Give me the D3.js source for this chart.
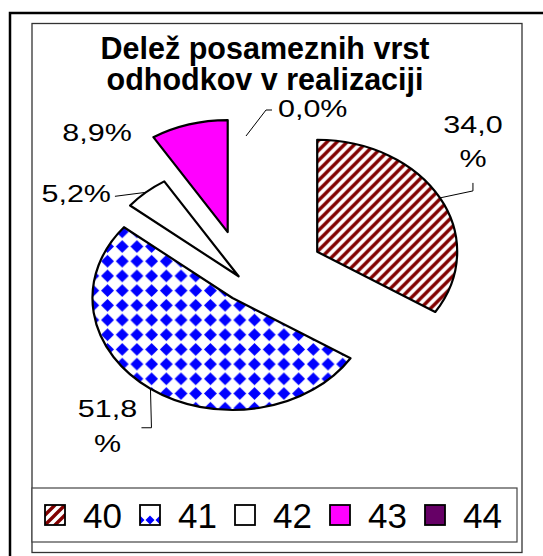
<!DOCTYPE html>
<html>
<head>
<meta charset="utf-8">
<script src="https://cdn.jsdelivr.net/npm/d3@7"></script>
<style>
  body { margin: 0; background: white; }
  text { font-family: "Liberation Sans", Arial, sans-serif; fill: black; }
</style>
</head>
<body>
<div id="chart"></div>
<script>
// data
const categories = ["40", "41", "42", "43", "44"];
const values = [34.0, 51.8, 5.2, 8.9, 0.0];
const titleLines = ["Delež posameznih vrst", "odhodkov v realizaciji"];

// styling / layout
const width = 543, height = 556;
const fills = ["url(#stripes-pie)", "url(#diamonds-pie)", "#ffffff", "#ff00ff", "#660066"];
const legendFills = ["url(#stripes-leg)", "url(#diamonds-leg)", "#ffffff", "#ff00ff", "#660066"];
const explode = [0.58, 0.165, 0.08, 0.473, 0.3125];   // fraction of radius, per slice
const cx = 246, cy = 283, R = 112, sx = 1.25;          // pie is stretched horizontally
const labelStretch = 1.27;

// label placement relative to the outer mid point of each slice
const labelLayout = [
  { leader: [[0, 0], [33, -7], [33, -15]], tx: 33, ty: [-64.5, -30.5], anchor: "middle", wrap: true },
  { leader: [[0, 0], [1, 39], [-9, 39]], tx: -43, ty: [28, 63], anchor: "middle", wrap: true },
  { leader: [[0, 0], [-31, 4]], tx: -35, ty: [10], anchor: "end", wrap: false },
  { leader: null, tx: -92, ty: [17], anchor: "middle", wrap: false },
  { leader: [[0, 0], [20, -26], [26, -26]], tx: 32, ty: [-19.5], anchor: "start", wrap: false }
];

const svg = d3.select("#chart").append("svg")
  .attr("width", width)
  .attr("height", height);

// patterns
const defs = svg.append("defs");
function makePatterns(suffix, transform) {
  const st = defs.append("pattern")
    .attr("id", "stripes-" + suffix)
    .attr("patternUnits", "userSpaceOnUse")
    .attr("width", 10).attr("height", 10);
  if (transform) st.attr("patternTransform", transform);
  st.append("rect").attr("width", 10).attr("height", 10).attr("fill", "white");
  st.append("path")
    .attr("d", "M-5,5 L5,-5 M0,10 L10,0 M5,15 L15,5")
    .attr("stroke", "#800000")
    .attr("stroke-width", 3.4);

  const dm = defs.append("pattern")
    .attr("id", "diamonds-" + suffix)
    .attr("patternUnits", "userSpaceOnUse");
  if (transform) {
    dm.attr("width", 14.7).attr("height", 14.7).attr("patternTransform", transform);
    dm.append("rect").attr("width", 14.7).attr("height", 14.7).attr("fill", "white");
    dm.append("path")
      .attr("d", "M7.35,0.9 L13.8,7.35 L7.35,13.8 L0.9,7.35 Z")
      .attr("fill", "#0000ff");
  } else {
    dm.attr("x", 140).attr("y", 505).attr("width", 10).attr("height", 20);
    dm.append("rect").attr("width", 10).attr("height", 20).attr("fill", "white");
    dm.append("path")
      .attr("d", "M0,5.5 L4.5,10 L0,14.5 L-4.5,10 Z M10,5.5 L14.5,10 L10,14.5 L5.5,10 Z")
      .attr("fill", "#0000ff");
  }
}
makePatterns("pie", `scale(${1 / sx},1)`);
makePatterns("leg", null);

// frames
svg.append("rect")
  .attr("x", 10).attr("y", 13)
  .attr("width", 600).attr("height", 600)
  .attr("fill", "none")
  .attr("stroke", "black")
  .attr("stroke-width", 2.5);

svg.append("rect")
  .attr("x", 32).attr("y", 23.5)
  .attr("width", 490).attr("height", 529)
  .attr("fill", "white")
  .attr("stroke", "#333")
  .attr("stroke-width", 1.3);

// title
svg.append("text")
  .attr("x", 265)
  .attr("text-anchor", "middle")
  .style("font-weight", "bold")
  .style("font-size", "30.5px")
  .selectAll("tspan")
  .data(titleLines)
  .enter()
  .append("tspan")
    .attr("x", 265)
    .attr("y", (d, i) => 59 + i * 31)
    .text(d => d);

// pie
const pie = d3.pie().sort(null).value(d => d);
const arcs = pie(values);
const arc = d3.arc().innerRadius(0).outerRadius(R);

const mid = d => (d.startAngle + d.endAngle) / 2;

svg.append("g")
  .selectAll("path")
  .data(arcs.filter(d => d.value > 0))
  .enter()
  .append("path")
    .attr("d", arc)
    .attr("transform", d => {
      const off = explode[d.index] * R;
      const m = mid(d);
      return `translate(${cx + sx * off * Math.sin(m)},${cy - off * Math.cos(m)}) scale(${sx},1)`;
    })
    .attr("fill", d => fills[d.index])
    .attr("stroke", "black")
    .attr("stroke-width", 2.2)
    .attr("stroke-linejoin", "round")
    .attr("vector-effect", "non-scaling-stroke");

// labels with leader lines
const fmt = v => v.toFixed(1).replace(".", ",");

arcs.forEach(d => {
  const lay = labelLayout[d.index];
  const m = mid(d);
  const k = (1 + explode[d.index]) * R;
  const px = cx + sx * k * Math.sin(m);
  const py = cy - k * Math.cos(m);

  if (lay.leader) {
    svg.append("path")
      .attr("d", d3.line()(lay.leader.map(p => [px + p[0], py + p[1]])))
      .attr("fill", "none")
      .attr("stroke", "black")
      .attr("stroke-width", 1);
  }

  const lines = lay.wrap ? [fmt(d.value), "%"] : [fmt(d.value) + "%"];
  lines.forEach((t, i) => {
    svg.append("text")
      .attr("transform", `translate(${px + lay.tx},${py + lay.ty[i]}) scale(${labelStretch},1)`)
      .attr("text-anchor", lay.anchor)
      .style("font-size", "24px")
      .text(t);
  });
});

// legend
svg.append("rect")
  .attr("x", 32).attr("y", 488)
  .attr("width", 485).attr("height", 54)
  .attr("fill", "white")
  .attr("stroke", "#444")
  .attr("stroke-width", 1.2);

const legX = d3.scalePoint()
  .domain(categories)
  .range([45, 425]);

const legItems = svg.append("g")
  .selectAll("g")
  .data(categories)
  .enter()
  .append("g")
  .attr("transform", d => `translate(${legX(d)},505)`);

legItems.append("rect")
  .attr("width", 20).attr("height", 20)
  .attr("fill", (d, i) => legendFills[i])
  .attr("stroke", "black")
  .attr("stroke-width", 1.8);

legItems.append("text")
  .attr("x", 38)
  .attr("y", 22.5)
  .style("font-size", "35px")
  .text(d => d);
</script>
</body>
</html>
